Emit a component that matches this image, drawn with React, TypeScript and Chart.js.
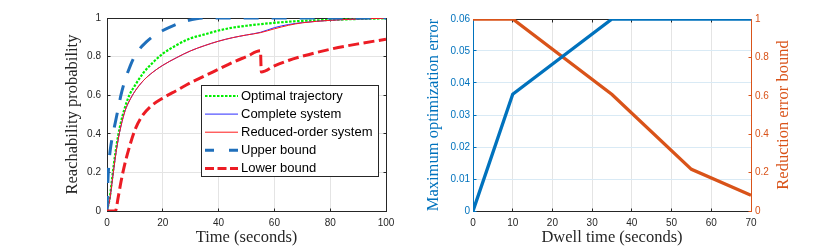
import React, { useEffect, useRef } from 'react';
import { Chart, registerables } from 'chart.js';

Chart.register(...registerables);

// ---------------- Data ----------------
const timeTicks = [0, 20, 40, 60, 80, 100];
const probabilityTicks = [0, 0.2, 0.4, 0.6, 0.8, 1];
const dwellTicks = [0, 10, 20, 30, 40, 50, 60, 70];
const optErrorTicks = [0, 0.01, 0.02, 0.03, 0.04, 0.05, 0.06];
const redErrorTicks = [0, 0.2, 0.4, 0.6, 0.8, 1];

const seriesLabels = ['Optimal trajectory', 'Complete system', 'Reduced-order system', 'Upper bound', 'Lower bound'];

const optimalTime = [0, 1, 2, 3, 4, 5, 6.5, 8, 10, 13, 16.5, 20, 25, 30, 35, 40, 45, 50, 60, 70, 80, 90, 100];
const optimalProb = [0, 0.07, 0.19, 0.3, 0.39, 0.46, 0.54, 0.6, 0.65, 0.715, 0.77, 0.815, 0.86, 0.895, 0.915, 0.935, 0.95, 0.96, 0.975, 0.985, 0.99, 0.995, 0.998];

const systemTime = [0, 1, 2, 3, 4, 5, 6.5, 8, 10, 13, 16.5, 20, 25, 30, 35, 40, 45, 50, 55, 60, 65, 70, 80, 90, 100];
const completeProb = [0, 0.06, 0.17, 0.28, 0.37, 0.44, 0.52, 0.57, 0.62, 0.675, 0.72, 0.755, 0.795, 0.83, 0.857, 0.88, 0.898, 0.912, 0.926, 0.95, 0.966, 0.976, 0.988, 0.995, 0.999];
const reducedProb = [0, 0.06, 0.17, 0.28, 0.37, 0.44, 0.52, 0.57, 0.62, 0.675, 0.72, 0.755, 0.795, 0.83, 0.857, 0.88, 0.898, 0.912, 0.924, 0.944, 0.962, 0.975, 0.988, 0.995, 0.999];

const upperTime = [0, 0.3, 0.7, 1.2, 2, 3, 4, 5, 6.5, 8, 9.5, 12, 14, 16.5, 20, 24, 28, 32, 35, 100];
const upperProb = [0, 0.15, 0.25, 0.32, 0.39, 0.46, 0.53, 0.6, 0.68, 0.74, 0.79, 0.845, 0.875, 0.905, 0.935, 0.962, 0.983, 0.996, 1, 1];

const lowerTime = [0, 3, 4, 5, 6, 8, 10, 12.5, 15.5, 20, 25, 30, 35, 40, 45, 50, 55, 55.3, 60, 65, 70, 80, 90, 100];
const lowerProb = [0, 0, 0.07, 0.15, 0.22, 0.33, 0.42, 0.49, 0.54, 0.585, 0.625, 0.665, 0.7, 0.735, 0.77, 0.8, 0.83, 0.72, 0.752, 0.78, 0.802, 0.838, 0.866, 0.89];

const dwellTimes = [0, 10, 35, 55, 70];
const maxOptError = [0, 0.0365, 0.06, 0.06, 0.06];
const reductionErrorBound = [1, 1, 0.607, 0.217, 0.082];

// ---------------- Styles ----------------
const BLUE = '#0072BD';
const ORANGE = '#D95319';
const AXIS = '#262626';
const GRID = '#e4e4e4';
const GRID_BLUE = '#d9eaf5';
const SANS = 'Liberation Sans';
const SERIF = 'Liberation Serif';
const legendDashes: number[][] = [[2.5, 1.5], [], [], [9, 15], [9, 3.5]];

const pts = (xs: number[], ys: number[]) => xs.map((x, i) => ({ x, y: ys[i] }));
const al = (v: number) => Math.round(v - 0.5) + 0.5;
const setTicks = (vals: number[]) => (s: any) => {
  s.ticks = vals.map((v) => ({ value: v }));
};

type FrameCfg = { leftScale: string; rightScale: string; leftColor: string; rightColor: string; tickLen: number };

function framePlugin(cfg: FrameCfg) {
  return {
    id: 'frame',
    beforeDatasetsDraw(chart: any) {
      const { ctx, chartArea: a, scales } = chart;
      const L = al(a.left), R = al(a.right), T = al(a.top), B = al(a.bottom);
      const tl = cfg.tickLen;
      ctx.save();
      ctx.lineWidth = 1;
      ctx.setLineDash([]);
      ctx.strokeStyle = AXIS;
      ctx.beginPath();
      for (const t of scales.x.ticks) {
        const px = al(scales.x.getPixelForValue(t.value));
        ctx.moveTo(px, B); ctx.lineTo(px, B - tl);
        ctx.moveTo(px, T); ctx.lineTo(px, T + tl);
      }
      ctx.moveTo(L, T); ctx.lineTo(R, T);
      ctx.moveTo(L, B); ctx.lineTo(R, B);
      ctx.stroke();

      ctx.strokeStyle = cfg.leftColor;
      ctx.beginPath();
      ctx.moveTo(L, T - 0.5); ctx.lineTo(L, B + 0.5);
      const ls = scales[cfg.leftScale];
      for (const t of ls.ticks) {
        const py = al(ls.getPixelForValue(t.value));
        ctx.moveTo(L, py); ctx.lineTo(L + tl, py);
      }
      ctx.stroke();

      ctx.strokeStyle = cfg.rightColor;
      ctx.beginPath();
      ctx.moveTo(R, T - 0.5); ctx.lineTo(R, B + 0.5);
      const rs = scales[cfg.rightScale];
      for (const t of rs.ticks) {
        const py = al(rs.getPixelForValue(t.value));
        ctx.moveTo(R, py); ctx.lineTo(R - tl, py);
      }
      ctx.stroke();
      ctx.restore();
    },
  };
}

const legendPlugin = {
  id: 'boxLegend',
  afterDraw(chart: any) {
    const { ctx, chartArea: a } = chart;
    const w = 177, h = 91;
    const x0 = al(a.right - 8 - w), y0 = al(a.top + 67);
    ctx.save();
    ctx.fillStyle = '#ffffff';
    ctx.fillRect(x0, y0, w, h);
    ctx.strokeStyle = AXIS;
    ctx.lineWidth = 1;
    ctx.setLineDash([]);
    ctx.strokeRect(x0, y0, w, h);
    chart.data.datasets.forEach((d: any, i: number) => {
      const y = y0 + 10.5 + i * 18.1;
      ctx.beginPath();
      ctx.setLineDash(legendDashes[i]);
      ctx.strokeStyle = d.borderColor;
      ctx.lineWidth = d.borderWidth;
      ctx.lineCap = 'butt';
      ctx.moveTo(x0 + 3.5, y);
      ctx.lineTo(x0 + 36.5, y);
      ctx.stroke();
      ctx.setLineDash([]);
      ctx.fillStyle = '#000';
      ctx.font = `13px "${SANS}"`;
      ctx.textBaseline = 'middle';
      ctx.textAlign = 'left';
      ctx.fillText(d.label, x0 + 39.5, y);
    });
    ctx.restore();
  },
};

const rightTitlePlugin = {
  id: 'rightTitle',
  afterDraw(chart: any) {
    const { ctx, chartArea: a } = chart;
    ctx.save();
    ctx.translate(a.right + 32.3, (a.top + a.bottom) / 2);
    ctx.rotate(-Math.PI / 2);
    ctx.fillStyle = ORANGE;
    ctx.font = `16.5px "${SERIF}"`;
    ctx.textAlign = 'center';
    ctx.textBaseline = 'middle';
    ctx.fillText('Reduction error bound', 0, 0);
    ctx.restore();
  },
};

const tickFont = { family: SANS, size: 10 };
const titleFont = { family: SERIF, size: 16.5 };

export default function App() {
  const leftRef = useRef<HTMLCanvasElement>(null);
  const rightRef = useRef<HTMLCanvasElement>(null);

  useEffect(() => {
    const c1 = new Chart(leftRef.current as HTMLCanvasElement, {
      type: 'line',
      data: {
        datasets: [
          { label: seriesLabels[0], data: pts(optimalTime, optimalProb), borderColor: '#00ee00', borderWidth: 2.2, borderDash: [2.5, 1.5], order: 5, cubicInterpolationMode: 'monotone' },
          { label: seriesLabels[1], data: pts(systemTime, completeProb), borderColor: '#2b2bff', borderWidth: 1, order: 4, cubicInterpolationMode: 'monotone' },
          { label: seriesLabels[2], data: pts(systemTime, reducedProb), borderColor: '#ff1a1a', borderWidth: 1, order: 3, cubicInterpolationMode: 'monotone' },
          { label: seriesLabels[3], data: pts(upperTime, upperProb), borderColor: '#1f6fbb', borderWidth: 3, borderDash: [15, 13], order: 2, cubicInterpolationMode: 'monotone' },
          { label: seriesLabels[4], data: pts(lowerTime, lowerProb), borderColor: '#ec1c24', borderWidth: 3, borderDash: [11, 4.5], order: 1, cubicInterpolationMode: 'monotone' },
        ] as any,
      },
      options: {
        animation: false,
        responsive: false,
        devicePixelRatio: 1,
        layout: { padding: { left: 0, right: 29, top: 18, bottom: 0 } },
        elements: { point: { radius: 0 } },
        plugins: { legend: { display: false }, tooltip: { enabled: false } },
        scales: {
          x: {
            type: 'linear', min: 0, max: 100,
            afterBuildTicks: setTicks(timeTicks),
            afterFit: (s: any) => { s.height = 38; },
            grid: { color: GRID, drawTicks: false },
            border: { display: false },
            ticks: { padding: 6, color: AXIS, font: tickFont, maxRotation: 0, autoSkip: false, callback: (v: any) => String(v) },
            title: { display: true, text: 'Time (seconds)', color: AXIS, font: titleFont, padding: { top: 0, bottom: 1 } },
          },
          y: {
            type: 'linear', min: 0, max: 1,
            afterBuildTicks: setTicks(probabilityTicks),
            afterFit: (s: any) => { s.width = 107; },
            grid: { color: GRID, drawTicks: false },
            border: { display: false },
            ticks: { padding: 6, color: AXIS, font: tickFont, autoSkip: false, callback: (v: any) => String(v) },
            title: { display: true, text: 'Reachability probability', color: AXIS, font: titleFont, padding: { top: 63, bottom: 0 } },
          },
        },
      } as any,
      plugins: [framePlugin({ leftScale: 'y', rightScale: 'y', leftColor: AXIS, rightColor: AXIS, tickLen: 3 }), legendPlugin],
    });

    const c2 = new Chart(rightRef.current as HTMLCanvasElement, {
      type: 'line',
      data: {
        datasets: [
          { label: 'Maximum optimization error', data: pts(dwellTimes, maxOptError), borderColor: BLUE, borderWidth: 3.3, yAxisID: 'y' },
          { label: 'Reduction error bound', data: pts(dwellTimes, reductionErrorBound), borderColor: ORANGE, borderWidth: 3.3, yAxisID: 'y1' },
        ] as any,
      },
      options: {
        animation: false,
        responsive: false,
        devicePixelRatio: 1,
        layout: { padding: { left: 0, right: 0, top: 19, bottom: 0 } },
        elements: { point: { radius: 0 } },
        plugins: { legend: { display: false }, tooltip: { enabled: false } },
        scales: {
          x: {
            type: 'linear', min: 0, max: 70,
            afterBuildTicks: setTicks(dwellTicks),
            afterFit: (s: any) => { s.height = 38; },
            grid: { color: GRID, drawTicks: false },
            border: { display: false },
            ticks: { padding: 6, color: AXIS, font: tickFont, maxRotation: 0, autoSkip: false, callback: (v: any) => String(v) },
            title: { display: true, text: 'Dwell time (seconds)', color: AXIS, font: titleFont, padding: { top: 0, bottom: 1 } },
          },
          y: {
            type: 'linear', position: 'left', min: 0, max: 0.06,
            afterBuildTicks: setTicks(optErrorTicks),
            afterFit: (s: any) => { s.width = 58; },
            grid: { color: GRID_BLUE, drawTicks: false },
            border: { display: false },
            ticks: { padding: 3, color: BLUE, font: tickFont, autoSkip: false, callback: (v: any) => (v === 0 ? '0' : Number(v).toFixed(2)) },
            title: { display: true, text: 'Maximum optimization error', color: BLUE, font: titleFont, padding: { top: 8.4, bottom: 0 } },
          },
          y1: {
            type: 'linear', position: 'right', min: 0, max: 1,
            afterBuildTicks: setTicks(redErrorTicks),
            afterFit: (s: any) => { s.width = 79; },
            grid: { display: false, drawTicks: false },
            border: { display: false },
            ticks: { padding: 4, color: ORANGE, font: tickFont, autoSkip: false, callback: (v: any) => String(v) },
            title: { display: false },
          },
        },
      } as any,
      plugins: [framePlugin({ leftScale: 'y', rightScale: 'y1', leftColor: BLUE, rightColor: ORANGE, tickLen: 3 }), rightTitlePlugin],
    });

    return () => {
      c1.destroy();
      c2.destroy();
    };
  }, []);

  return (
    <div style={{ position: 'fixed', left: 0, top: 0, width: 830, height: 249, background: '#ffffff' }}>
      <canvas ref={leftRef} width={415} height={249} style={{ position: 'absolute', left: 0, top: 0, width: 415, height: 249 }} />
      <canvas ref={rightRef} width={415} height={249} style={{ position: 'absolute', left: 415, top: 0, width: 415, height: 249 }} />
    </div>
  );
}
